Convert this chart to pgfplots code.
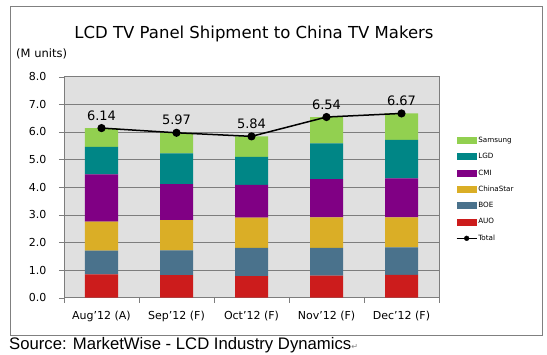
\documentclass[border=0pt]{standalone}
\usepackage{pgfplots}
\pgfplotsset{compat=1.18}
\usepackage{pgfplotstable}
\usepackage{fontspec}
\setmainfont{DejaVu Sans}
\newfontfamily\arial{Liberation Sans}
\definecolor{cSam}{RGB}{146,208,80}
\definecolor{cLGD}{RGB}{0,134,134}
\definecolor{cCMI}{RGB}{128,0,132}
\definecolor{cCS}{RGB}{218,174,38}
\definecolor{cBOE}{RGB}{74,114,140}
\definecolor{cAUO}{RGB}{204,28,28}
\definecolor{plotbg}{RGB}{224,224,224}
\definecolor{gridc}{RGB}{125,125,125}
\pgfplotstableread{
x AUO BOE ChinaStar CMI LGD Samsung Total
0 0.84 0.86 1.05 1.71 1.00 0.68 6.14
1 0.82 0.89 1.10 1.30 1.11 0.75 5.97
2 0.78 1.02 1.10 1.18 1.02 0.74 5.84
3 0.80 1.00 1.11 1.38 1.30 0.95 6.54
4 0.83 0.99 1.09 1.41 1.39 0.96 6.67
}\data
\pgfplotsset{
  sqlegend/.style={legend image code/.code={\fill[##1, draw=none] (0pt,-3.5pt) rectangle (20pt,3.5pt);}},
  tlegend/.style={legend image code/.code={\draw[black, line width=1.2pt] (0pt,0pt)--(20pt,0pt); \fill[black] (10pt,0pt) circle (2.4pt);}},
}
\begin{document}
\begin{tikzpicture}[x=1pt,y=1pt]
\useasboundingbox (0,0) rectangle (547,355);
\draw[gray, line width=0.8pt] (10,20) rectangle (542,349);
\begin{axis}[
  at={(64pt,57.3pt)}, anchor=south west, scale only axis,
  width=375pt, height=221pt,
  xmin=-0.5, xmax=4.5, ymin=0, ymax=8,
  ybar stacked, bar width=33pt,
  axis background/.style={fill=plotbg},
  axis line style={gridc},
  xtick={0,1,2,3,4},
  xticklabels={Aug'12 (A),Sep'12 (F),Oct'12 (F),Nov'12 (F),Dec'12 (F)},
  minor xtick={-0.5,0.5,1.5,2.5,3.5,4.5},
  major x tick style={draw=none},
  minor x tick style={gridc},
  ytick={0,1,...,8},
  tick align=outside, major tick length=5pt, minor tick length=5pt,
  xtick pos=bottom, ytick pos=left,
  ymajorgrids, major grid style={gridc, line width=0.6pt},
  y tick style={gridc},
  yticklabel style={xshift=-9pt, /pgf/number format/.cd, fixed, fixed zerofill, precision=1, assume math mode=true},
  ticklabel style={font=\fontsize{11}{13}\selectfont},
  xticklabel style={yshift=-5pt},
]
\addplot[fill=cAUO, draw=none] table[x=x, y=AUO] {\data};
\addplot[fill=cBOE, draw=none] table[x=x, y=BOE] {\data};
\addplot[fill=cCS, draw=none] table[x=x, y=ChinaStar] {\data};
\addplot[fill=cCMI, draw=none] table[x=x, y=CMI] {\data};
\addplot[fill=cLGD, draw=none] table[x=x, y=LGD] {\data};
\addplot[fill=cSam, draw=none] table[x=x, y=Samsung] {\data};
\end{axis}
\begin{axis}[
  at={(64pt,57.3pt)}, anchor=south west, scale only axis,
  width=375pt, height=221pt,
  xmin=-0.5, xmax=4.5, ymin=0, ymax=8,
  hide axis, clip=false,
  legend style={at={(1.045,0.732)}, anchor=north west, draw=none, fill=none, inner sep=0pt,
    row sep=7.5pt, font=\fontsize{7.2}{8}\selectfont,
    nodes={inner sep=1pt, text height=5.3pt, text depth=1.5pt}},
  legend cell align=left,
]
\addlegendimage{sqlegend, fill=cSam}\addlegendentry{Samsung}
\addlegendimage{sqlegend, fill=cLGD}\addlegendentry{LGD}
\addlegendimage{sqlegend, fill=cCMI}\addlegendentry{CMI}
\addlegendimage{sqlegend, fill=cCS}\addlegendentry{ChinaStar}
\addlegendimage{sqlegend, fill=cBOE}\addlegendentry{BOE}
\addlegendimage{sqlegend, fill=cAUO}\addlegendentry{AUO}
\addlegendimage{tlegend}\addlegendentry{Total}
\addplot[forget plot, black, line width=1.5pt, mark=*, mark size=3.3pt,
  nodes near coords, point meta=explicit symbolic,
  nodes near coords style={font=\fontsize{13}{15}\selectfont, anchor=south, yshift=6pt, inner sep=1pt}]
  table[x=x, y=Total, meta=Total] {\data};
\end{axis}
\node[anchor=center, font=\fontsize{16.5}{19}\selectfont] at (254,321) {LCD TV Panel Shipment to China TV Makers};
\node[anchor=west, inner sep=0pt, font=\fontsize{11.5}{13}\selectfont] at (16,301) {(M units)};
\node[anchor=west, inner sep=0pt] at (9,10) {{\arial\fontsize{16.7}{18}\selectfont Source: MarketWise - LCD Industry Dynamics}{\color{gray}\fontsize{8}{8}\selectfont ↵}};
\end{tikzpicture}
\end{document}
